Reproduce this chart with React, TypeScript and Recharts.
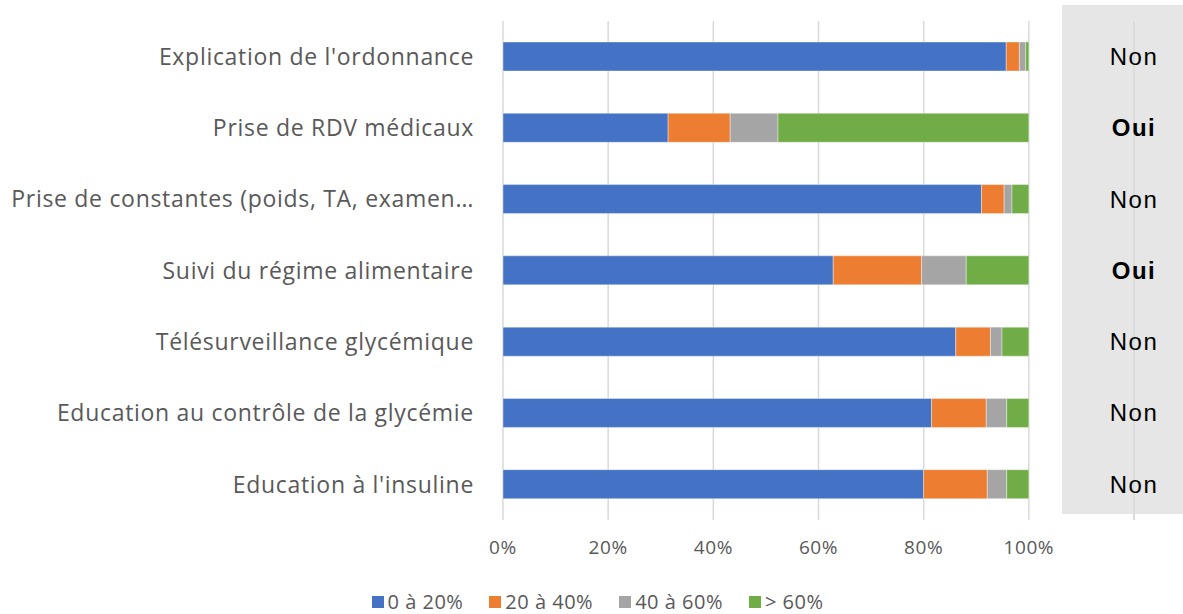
import React from "react";
import {
  BarChart,
  Bar,
  XAxis,
  YAxis,
  CartesianGrid,
  Legend,
} from "recharts";

const categories = [
  "Explication de l'ordonnance",
  "Prise de RDV médicaux",
  "Prise de constantes (poids, TA, examen…",
  "Suivi du régime alimentaire",
  "Télésurveillance glycémique",
  "Education au contrôle de la glycémie",
  "Education à l'insuline",
];

const share0to20 = [95.7, 31.4, 91.0, 62.8, 86.1, 81.5, 80.0];
const share20to40 = [2.5, 11.8, 4.3, 16.8, 6.6, 10.4, 12.1];
const share40to60 = [1.2, 9.1, 1.5, 8.5, 2.2, 3.9, 3.7];
const shareOver60 = [0.6, 47.7, 3.2, 11.9, 5.1, 4.2, 4.2];

const flags = ["Non", "Oui", "Non", "Oui", "Non", "Non", "Non"];

const xTicks = [0, 20, 40, 60, 80, 100];

const seriesList = [
  { key: "a", name: "0 à 20%", color: "#4472C4" },
  { key: "b", name: "20 à 40%", color: "#ED7D31" },
  { key: "c", name: "40 à 60%", color: "#A5A5A5" },
  { key: "d", name: "> 60%", color: "#70AD47" },
];

const data = categories.map((name, i) => ({
  name,
  a: share0to20[i],
  b: share20to40[i],
  c: share40to60[i],
  d: shareOver60[i],
}));

const FONT = "'Open Sans', sans-serif";

function FlagTick(props: any) {
  const { x, y, payload } = props;
  const label = flags[payload.index];
  return (
    <text
      x={x}
      y={y}
      dy="0.35em"
      textAnchor="middle"
      fontFamily="'Liberation Sans', Arial, sans-serif"
      fontSize={24}
      letterSpacing={1.5}
      fontWeight={label === "Oui" ? 700 : 400}
      fill="#000"
    >
      {label}
    </text>
  );
}

function LegendRow() {
  return (
    <div
      style={{
        display: "flex",
        justifyContent: "center",
        gap: 26,
        height: 24,
        lineHeight: "24px",
        fontFamily: FONT,
        fontSize: 20,
        letterSpacing: 0.5,
        color: "#595959",
        paddingLeft: 12,
      }}
    >
      {seriesList.map((s) => (
        <div key={s.key} style={{ display: "flex", alignItems: "center", gap: 4 }}>
          <span
            style={{
              display: "inline-block",
              width: 12,
              height: 12,
              backgroundColor: s.color,
            }}
          />
          {s.name}
        </div>
      ))}
    </div>
  );
}

export default function App() {
  return (
    <div style={{ position: "absolute", left: 0, top: 0, width: 1183, height: 614, background: "#fff" }}>
      {/* side panel behind the chart */}
      <div
        style={{
          position: "absolute",
          left: 1062,
          top: 5,
          width: 121,
          height: 509,
          background: "#E6E6E6",
        }}
      />
      <div
        style={{
          position: "absolute",
          left: 1133,
          top: 514,
          width: 1.5,
          height: 6,
          background: "#D9D9D9",
        }}
      />
      <div style={{ position: "absolute", left: 0, top: 0 }}>
        <BarChart
          width={1183}
          height={614}
          data={data}
          layout="vertical"
          margin={{ top: 21, right: 0, bottom: 0, left: 0 }}
          barSize={29}
        >
          <CartesianGrid horizontal={false} stroke="#D9D9D9" strokeWidth={1.5} />
          <XAxis
            type="number"
            domain={[0, 120]}
            ticks={xTicks}
            tickFormatter={(v) => `${v}%`}
            axisLine={false}
            tickLine={false}
            tickSize={0}
            tickMargin={21}
            height={70}
            tick={{ fill: "#595959", fontSize: 19, letterSpacing: 0.6, fontFamily: FONT }}
          />
          <YAxis
            yAxisId="cat"
            type="category"
            dataKey="name"
            width={503}
            axisLine={false}
            tickLine={false}
            tickSize={0}
            tickMargin={29}
            interval={0}
            tick={{ fill: "#595959", fontSize: 23, letterSpacing: 0.7, fontFamily: FONT }}
          />
          <YAxis
            yAxisId="flag"
            orientation="right"
            type="category"
            dataKey="name"
            width={49}
            axisLine={false}
            tickLine={false}
            tickSize={0}
            tickMargin={0}
            interval={0}
            tick={<FlagTick />}
          />
          {seriesList.map((s) => (
            <Bar
              key={s.key}
              yAxisId="cat"
              dataKey={s.key}
              name={s.name}
              stackId="all"
              fill={s.color}
              stroke="#ffffff"
              strokeOpacity={0.5}
              strokeWidth={0.75}
              isAnimationActive={false}
            />
          ))}
          <Legend verticalAlign="bottom" height={24} content={() => <LegendRow />} />
        </BarChart>
      </div>
    </div>
  );
}
